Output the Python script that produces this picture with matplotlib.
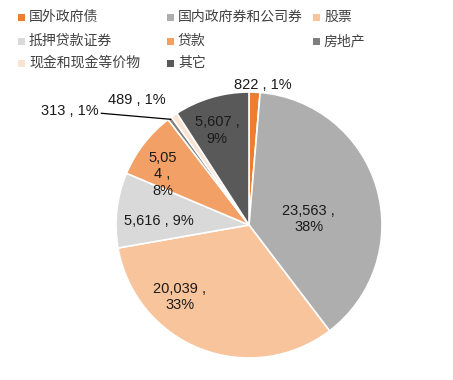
import matplotlib.pyplot as plt
from matplotlib.patches import Rectangle
import numpy as np

plt.rcParams['font.family'] = ['Liberation Sans', 'Noto Sans CJK SC', 'DejaVu Sans']

# données
categories = ['国外政府债', '国内政府券和公司券', '股票', '抵押贷款证券',
              '贷款', '房地产', '现金和现金等价物', '其它']
values = [822, 23563, 20039, 5616, 5054, 313, 489, 5607]
label_texts = ['822 , 1%', '23,563 ,\n38%', '20,039 ,\n33%', '5,616 , 9%',
               '5,05\n4 ,\n8%', '313 , 1%', '489 , 1%', '5,607 ,\n9%']

colors = ['#ED7D31', '#AEAEAE', '#F8C49C', '#D9D9D9',
          '#F3A067', '#7F7F7F', '#FBE3D1', '#595959']

# positions des étiquettes (unités du rayon)
label_pos = [(0.105, 1.05), (0.45, 0.045), (-0.52, -0.54), (-0.68, 0.03),
             (-0.65, 0.38), (-1.35, 0.86), (-0.84, 0.94), (-0.24, 0.71)]

fig = plt.figure(figsize=(4.53, 3.8), dpi=100)
ax = fig.add_axes([(249 - 133) / 453, 1 - (225 + 133) / 380, 266 / 453, 266 / 380])

wedges, _ = ax.pie(values, colors=colors, startangle=90, counterclock=False,
                   radius=1, wedgeprops=dict(edgecolor='white', linewidth=1.2))
ax.set_xlim(-1, 1)
ax.set_ylim(-1, 1)
ax.set_aspect('equal')

for i, (txt, (x, y)) in enumerate(zip(label_texts, label_pos)):
    ax.text(x, y, txt, ha='center', va='center', fontsize=10.5,
            color='#1a1a1a', linespacing=1.2, clip_on=False)

# trait de rappel pour 房地产
w = wedges[5]
ang = np.deg2rad((w.theta1 + w.theta2) / 2)
ax.plot([-1.11, np.cos(ang) * 0.99], [0.84, np.sin(ang) * 0.99],
        color='black', linewidth=0.9, clip_on=False)

# légende manuelle (3 colonnes)
col_x = [18, 167, 313]
row_y = [17, 41, 63]
for i, (name, c) in enumerate(zip(categories, colors)):
    r, k = divmod(i, 3)
    x0 = col_x[k]
    y0 = row_y[r]
    fig.patches.append(Rectangle((x0 / 453, 1 - (y0 + 3.5) / 380), 7 / 453, 7 / 380,
                                 transform=fig.transFigure, facecolor=c,
                                 edgecolor='none'))
    fig.text((x0 + 11) / 453, 1 - y0 / 380, name, ha='left', va='center',
             fontsize=10, family=['Noto Sans CJK SC', 'DejaVu Sans'],
             color='#404040')

fig.savefig('out.png', dpi=100)
